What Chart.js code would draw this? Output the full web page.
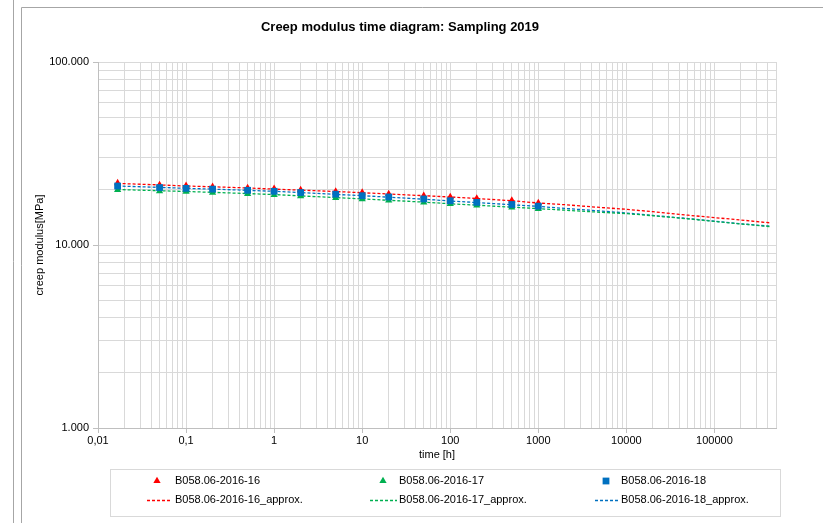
<!DOCTYPE html>
<html>
<head>
<meta charset="utf-8">
<script src="https://cdn.jsdelivr.net/npm/chart.js@4.4.1/dist/chart.umd.min.js"></script>
<style>
  html, body { margin: 0; padding: 0; background: #fff; }
  #wrap { width: 823px; height: 523px; position: relative; }
</style>
</head>
<body>
<div id="wrap"><canvas id="chart" width="823" height="523"></canvas></div>
<script>
// chart texts
var titleText = 'Creep modulus time diagram: Sampling 2019';
var xAxisTitle = 'time [h]';
var yAxisTitle = 'creep modulus[MPa]';

// axis ticks
var xMajorTicks = [0.01, 0.1, 1, 10, 100, 1000, 10000, 100000];
var xTickLabels = ['0,01', '0,1', '1', '10', '100', '1000', '10000', '100000'];
var yMajorTicks = [1, 10, 100];
var yTickLabels = ['1.000', '10.000', '100.000'];

// series names
var measuredNames = ['B058.06-2016-16', 'B058.06-2016-17', 'B058.06-2016-18'];
var approxNames = ['B058.06-2016-16_approx.', 'B058.06-2016-17_approx.', 'B058.06-2016-18_approx.'];

// measured points
var measureTimes = [0.0167, 0.05, 0.1, 0.2, 0.5, 1, 2, 5, 10, 20, 50, 100, 200, 500, 1000];
var measured16 = [21.8, 21.3, 21.1, 20.8, 20.5, 20.3, 20.0, 19.6, 19.35, 19.0, 18.6, 18.3, 17.95, 17.5, 17.0];
var measured17 = [20.0, 19.7, 19.55, 19.3, 19.0, 18.8, 18.5, 18.1, 17.8, 17.5, 17.1, 16.75, 16.45, 16.05, 15.75];
var measured18 = [21.0, 20.6, 20.4, 20.2, 19.9, 19.65, 19.35, 18.95, 18.6, 18.3, 17.85, 17.45, 17.1, 16.65, 16.3];

// approximation curves
var approxTimes = [0.0167, 0.05, 0.1, 0.2, 0.5, 1, 2, 5, 10, 20, 50, 100, 200, 500, 1000,
                   2000, 5000, 10000, 20000, 50000, 100000, 200000, 438000];
var approx16 = [21.7, 21.3, 21.0, 20.8, 20.5, 20.2, 19.95, 19.6, 19.3, 19.0, 18.6, 18.3, 17.95, 17.45, 16.96,
                16.6, 16.05, 15.67, 15.2, 14.55, 14.11, 13.7, 13.2];
var approx17 = [20.1, 19.8, 19.6, 19.4, 19.1, 18.86, 18.55, 18.15, 17.85, 17.55, 17.15, 16.8, 16.5, 16.1, 15.8,
                15.5, 15.1, 14.85, 14.45, 13.9, 13.45, 13.03, 12.6];
var approx18 = [21.0, 20.65, 20.4, 20.2, 19.9, 19.65, 19.35, 18.9, 18.6, 18.25, 17.8, 17.4, 17.05, 16.6, 16.25,
                15.85, 15.35, 14.96, 14.5, 13.95, 13.48, 13.06, 12.65];

var red = '#ff0000', green = '#00b050', blue = '#0070c0';
var fontFamily = "'Liberation Sans', Arial, sans-serif";

function toPoints(xs, ys) {
    return xs.map(function (x, i) { return {x: x, y: ys[i]}; });
}

function decadeTicks(majors, max) {
    var out = [];
    majors.forEach(function (m) {
        for (var k = 1; k <= 9; k++) {
            var v = m * k;
            if (v <= max * 1.000001) out.push({value: v, major: k === 1});
        }
    });
    return out;
}

function majorLabel(value, majors, labels) {
    for (var i = 0; i < majors.length; i++) {
        if (Math.abs(value - majors[i]) < majors[i] * 1e-6) return labels[i];
    }
    return '';
}

function measuredSet(name, data, color, style, radius, order) {
    return {
        label: name,
        data: toPoints(measureTimes, data),
        showLine: false,
        pointStyle: style,
        pointRadius: radius,
        backgroundColor: color,
        borderColor: color,
        borderWidth: 0,
        order: order
    };
}

function approxSet(name, data, color, order) {
    return {
        label: name,
        data: toPoints(approxTimes, data),
        showLine: true,
        pointRadius: 0,
        borderColor: color,
        backgroundColor: color,
        borderWidth: 1.3,
        borderDash: [3, 2],
        tension: 0,
        order: order
    };
}

// frame, title and a 3-column legend like the original
var decorPlugin = {
    id: 'decor',
    beforeDraw: function (chart) {
        var ctx = chart.ctx;
        ctx.save();
        ctx.fillStyle = '#fff';
        ctx.fillRect(0, 0, chart.width, chart.height);
        ctx.strokeStyle = '#a6a6a6';
        ctx.lineWidth = 1;
        ctx.beginPath();
        ctx.moveTo(13.5, 0);
        ctx.lineTo(13.5, chart.height);
        ctx.moveTo(21.5, chart.height);
        ctx.lineTo(21.5, 7.5);
        ctx.lineTo(chart.width, 7.5);
        ctx.stroke();
        ctx.restore();
    },
    afterDraw: function (chart) {
        var ctx = chart.ctx;
        var ds = chart.data.datasets;
        ctx.save();
        ctx.fillStyle = '#000';
        ctx.font = 'bold 13px ' + fontFamily;
        ctx.textAlign = 'center';
        ctx.textBaseline = 'middle';
        ctx.fillText(titleText, 400, 27);

        // legend box
        ctx.strokeStyle = '#d9d9d9';
        ctx.lineWidth = 1;
        ctx.strokeRect(110.5, 469.5, 670, 47);

        var markerX = [157, 383, 606];
        var lineStart = [147, 370, 595];
        var lineEnd = [172, 397, 620];
        var textX = [175, 399, 621];
        var rowY = [481, 500];
        ctx.font = '11px ' + fontFamily;
        ctx.textAlign = 'left';
        for (var c = 0; c < 3; c++) {
            var m = ds[c];
            ctx.fillStyle = m.backgroundColor;
            ctx.strokeStyle = m.borderColor;
            Chart.helpers.drawPoint(ctx, {pointStyle: m.pointStyle, radius: m.pointRadius, rotation: 0, borderWidth: 0}, markerX[c], rowY[0]);
            ctx.fillStyle = '#000';
            ctx.fillText(m.label, textX[c], rowY[0]);

            var a = ds[c + 3];
            ctx.strokeStyle = a.borderColor;
            ctx.lineWidth = a.borderWidth;
            ctx.setLineDash(a.borderDash);
            ctx.beginPath();
            ctx.moveTo(lineStart[c], rowY[1] + 0.5);
            ctx.lineTo(lineEnd[c], rowY[1] + 0.5);
            ctx.stroke();
            ctx.setLineDash([]);
            ctx.fillStyle = '#000';
            ctx.fillText(a.label, textX[c], rowY[1]);
        }
        ctx.restore();
    }
};

var gridOptions = {
    color: '#d9d9d9',
    lineWidth: 1,
    tickLength: 5,
    tickColor: function (c) { return c.tick && c.tick.major ? '#bfbfbf' : 'rgba(0,0,0,0)'; }
};

new Chart(document.getElementById('chart').getContext('2d'), {
    type: 'scatter',
    data: {
        datasets: [
            measuredSet(measuredNames[0], measured16, red, 'triangle', 4.2, 2),
            measuredSet(measuredNames[1], measured17, green, 'triangle', 4.2, 1),
            measuredSet(measuredNames[2], measured18, blue, 'rect', 4.8, 0),
            approxSet(approxNames[0], approx16, red, 3),
            approxSet(approxNames[1], approx17, green, 4),
            approxSet(approxNames[2], approx18, blue, 5)
        ]
    },
    options: {
        responsive: false,
        animation: false,
        events: [],
        layout: {padding: {top: 62, right: 47, left: 0, bottom: 0}},
        plugins: {
            legend: {display: false},
            title: {display: false},
            tooltip: {enabled: false}
        },
        scales: {
            x: {
                type: 'logarithmic',
                min: 0.01,
                max: 500000,
                afterBuildTicks: function (scale) { scale.ticks = decadeTicks(xMajorTicks, 500000); },
                afterFit: function (scale) { scale.height = 95; },
                grid: gridOptions,
                border: {color: '#bfbfbf', width: 1},
                ticks: {
                    autoSkip: false,
                    maxRotation: 0,
                    padding: 1,
                    color: '#000',
                    font: {family: fontFamily, size: 11},
                    callback: function (value) { return majorLabel(value, xMajorTicks, xTickLabels); }
                },
                title: {
                    display: true,
                    text: xAxisTitle,
                    color: '#000',
                    font: {family: fontFamily, size: 11},
                    padding: {top: 0, bottom: 61}
                }
            },
            y: {
                type: 'logarithmic',
                min: 1,
                max: 100,
                afterBuildTicks: function (scale) { scale.ticks = decadeTicks(yMajorTicks, 100); },
                afterFit: function (scale) { scale.width = 98; },
                grid: gridOptions,
                border: {color: '#bfbfbf', width: 1},
                ticks: {
                    autoSkip: false,
                    padding: 4,
                    color: '#000',
                    font: {family: fontFamily, size: 11},
                    callback: function (value) { return majorLabel(value, yMajorTicks, yTickLabels); }
                },
                title: {
                    display: true,
                    text: yAxisTitle,
                    color: '#000',
                    font: {family: fontFamily, size: 11},
                    padding: {top: 33, bottom: 0}
                }
            }
        }
    },
    plugins: [decorPlugin]
});
</script>
</body>
</html>
